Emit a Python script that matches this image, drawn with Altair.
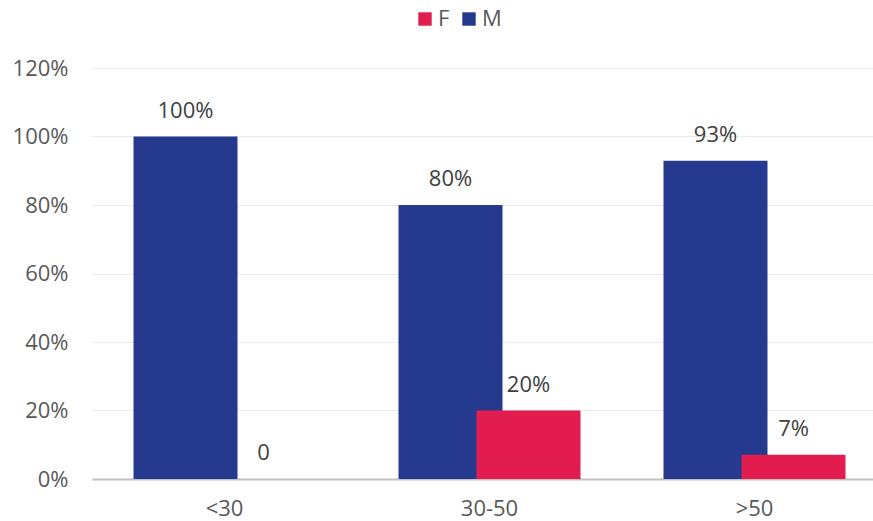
import altair as alt
import pandas as pd

groups = ["<30", "30-50", ">50"]
m_values = [1.0, 0.8, 0.929]
f_values = [0.0, 0.2, 0.071]
m_labels = ["100%", "80%", "93%"]
f_labels = ["0", "20%", "7%"]
y_ticks = [0, 0.2, 0.4, 0.6, 0.8, 1.0, 1.2]

rows = []
for g, v, l in zip(groups, m_values, m_labels):
    rows.append({"group": g, "sex": "M", "value": v, "label": l})
for g, v, l in zip(groups, f_values, f_labels):
    rows.append({"group": g, "sex": "F", "value": v, "label": l})
df = pd.DataFrame(rows)

FONT = "Open Sans"
BLUE = "#253A8E"
RED = "#E21C4E"

x_enc = alt.X("group:N", sort=groups, title=None,
              scale=alt.Scale(range=[0, 795], paddingInner=0, paddingOuter=0),
              axis=alt.Axis(labelAngle=0, labelFontSize=22, labelColor="#595959",
                            labelFont=FONT, labelPadding=19, ticks=False,
                            domainColor="#c0c0c0", domainWidth=2, grid=False))
y_enc = alt.Y("value:Q", title=None,
              scale=alt.Scale(domain=[0, 1.2], nice=False),
              axis=alt.Axis(values=y_ticks, format=".0%", labelFontSize=22,
                            labelColor="#595959", labelFont=FONT, labelPadding=24,
                            ticks=False, domain=False, gridColor="#ebebeb",
                            gridWidth=1))
color_enc = alt.Color("sex:N", scale=alt.Scale(domain=["F", "M"], range=[RED, BLUE]),
                      legend=alt.Legend(title=None, orient="none", direction="horizontal",
                                        legendX=322, legendY=-60, symbolType="square",
                                        symbolSize=180, symbolStrokeWidth=0,
                                        labelFontSize=22, labelFont=FONT,
                                        labelColor="#595959", columnPadding=8,
                                        labelOffset=2))

base = alt.Chart(df)

bars_m = base.transform_filter(alt.datum.sex == "M").mark_bar(
    width=104, xOffset=-39).encode(x=x_enc, y=y_enc, color=color_enc)
bars_f = base.transform_filter(alt.datum.sex == "F").mark_bar(
    width=104, xOffset=39).encode(x=x_enc, y=y_enc, color=color_enc)

text_m = base.transform_filter(alt.datum.sex == "M").mark_text(
    xOffset=-39, dy=-19, baseline="alphabetic", fontSize=22, font=FONT,
    color="#404040").encode(x=x_enc, y=y_enc, text="label:N")
text_f = base.transform_filter(alt.datum.sex == "F").mark_text(
    xOffset=39, dy=-19, baseline="alphabetic", fontSize=22, font=FONT,
    color="#404040").encode(x=x_enc, y=y_enc, text="label:N")

chart = alt.layer(bars_m, bars_f, text_m, text_f).properties(
    width=781, height=411,
    background="white",
    autosize=alt.AutoSizeParams(type="none"),
    padding={"left": 92, "top": 68, "right": 0, "bottom": 42},
).configure_view(
    strokeWidth=0, stroke="transparent"
)

chart.save("out.html", embed_options={"renderer": "svg", "actions": False})
